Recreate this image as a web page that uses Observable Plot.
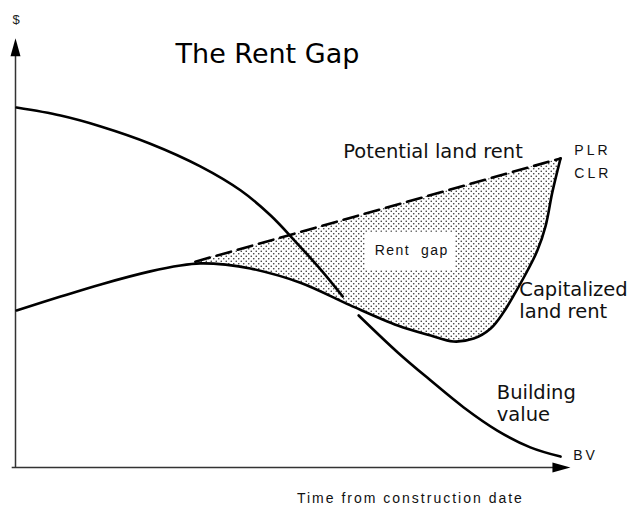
<!DOCTYPE html>
<html>
<head>
<meta charset="utf-8">
<script src="https://cdn.jsdelivr.net/npm/d3@7"></script>
<script src="https://cdn.jsdelivr.net/npm/@observablehq/plot@0.6"></script>
<style>
  html, body { margin: 0; padding: 0; background: #fff; }
  #defs { position: absolute; width: 0; height: 0; }
</style>
</head>
<body>
<svg id="defs" width="0" height="0">
  <defs>
    <pattern id="dots" width="5" height="5" patternUnits="userSpaceOnUse">
      <rect width="5" height="5" fill="#fff"></rect>
      <circle cx="1.25" cy="1.25" r="0.8" fill="#333"></circle>
      <circle cx="3.75" cy="3.75" r="0.8" fill="#333"></circle>
    </pattern>
  </defs>
</svg>
<div id="chart"></div>
<script>
// Building value (BV): upper part, break (NaN) where it passes under CLR, lower part
const bvX = [0.2, 8.2, 15.5, 24.5, 33.6, 40.9, 46.4, 50.9, 55.5, 59.5, NaN, 62.4, 69.5, 75.5, 81.5, 87.6, 93.6, 99.1];
const bvY = [85.7, 83.8, 81.2, 77.1, 71.7, 66.0, 60.0, 53.8, 47.1, 40.7, NaN, 36.2, 27.4, 20.7, 14.3, 8.8, 4.8, 2.6];

// Capitalized land rent (CLR)
const clrX = [0.2, 8.2, 15.5, 24.5, 30.0, 33.6, 38.2, 42.7, 51.8, 60.9, 69.5, 75.5, 79.6, 83.3, 86.4, 88.7, 90.9, 93.1, 94.9, 96.4, 97.6, 99.1];
const clrY = [37.4, 40.7, 43.6, 46.7, 48.1, 48.6, 48.3, 47.4, 44.0, 38.6, 33.8, 31.4, 30.0, 30.7, 33.1, 36.9, 41.7, 46.9, 51.7, 57.6, 65.5, 73.6];

// Potential land rent (PLR), straight dashed line
const plrX = [32.7, 99.1];
const plrY = [49.0, 73.6];

// Rent gap: upper edge (PLR) read at the CLR sample positions from x = 33.6 on
const gapX = [33.6, 38.2, 42.7, 51.8, 60.9, 69.5, 75.5, 79.6, 83.3, 86.4, 88.7, 90.9, 93.1, 94.9, 96.4, 97.6, 99.1];
const gapTop = [49.3, 51.0, 52.7, 56.0, 59.4, 62.6, 64.8, 66.3, 67.7, 68.8, 69.7, 70.5, 71.3, 72.0, 72.5, 73.0, 73.6];
const gapBottom = [48.6, 48.3, 47.4, 44.0, 38.6, 33.8, 31.4, 30.0, 30.7, 33.1, 36.9, 41.7, 46.9, 51.7, 57.6, 65.5, 73.6];

// Text labels
const title = "The Rent Gap";
const yLabel = "$";
const xLabel = "Time from construction date";
const bigLabels = [
  {text: "Potential land rent", x: 59.6, y: 73.8},
  {text: "Capitalized\nland rent", x: 91.6, y: 35.5},
  {text: "Building\nvalue", x: 87.5, y: 11.0}
];
const endLabels = [
  {text: "PLR", x: 101.6, y: 74.3},
  {text: "CLR", x: 101.6, y: 69.0},
  {text: "BV", x: 101.4, y: 1.7}
];
const gapLabel = {text: "Rent  gap", x: 65.3, y: 50.5};
const gapBox = {x1: 63.6, x2: 80.0, y1: 46.9, y2: 56.0};

const bv = bvX.map((x, i) => ({x, y: bvY[i]}));
const clr = clrX.map((x, i) => ({x, y: clrY[i]}));
const plr = plrX.map((x, i) => ({x, y: plrY[i]}));
const gap = gapX.map((x, i) => ({x, top: gapTop[i], bottom: gapBottom[i]}));

const upArrow = {draw(ctx) { ctx.moveTo(0, 0); ctx.lineTo(-5, 18); ctx.lineTo(5, 18); ctx.closePath(); }};
const rightArrow = {draw(ctx) { ctx.moveTo(0, 0); ctx.lineTo(-18, -5); ctx.lineTo(-18, 5); ctx.closePath(); }};

const chart = Plot.plot({
  width: 628,
  height: 510,
  marginLeft: 15,
  marginRight: 63,
  marginTop: 47,
  marginBottom: 43,
  x: {domain: [0, 100], axis: null},
  y: {domain: [0, 100], axis: null},
  style: {background: "#fff", overflow: "visible"},
  marks: [
    // rent gap fill
    Plot.areaY(gap, {x: "x", y1: "bottom", y2: "top", fill: "url(#dots)", curve: "catmull-rom"}),
    Plot.rect([gapBox], {x1: "x1", x2: "x2", y1: "y1", y2: "y2", fill: "#fff"}),
    // axes
    Plot.ruleX([0], {y1: 0, y2: 100, stroke: "#333", strokeWidth: 1.5}),
    Plot.ruleY([0], {x1: -0.6, x2: 98, stroke: "#333", strokeWidth: 1.5}),
    Plot.dot([{x: 0, y: 102.2}], {x: "x", y: "y", symbol: upArrow, fill: "#000", stroke: "none"}),
    Plot.dot([{x: 100.9, y: 0}], {x: "x", y: "y", symbol: rightArrow, fill: "#000", stroke: "none"}),
    // curves
    Plot.line(plr, {x: "x", y: "y", stroke: "#000", strokeWidth: 2.6, strokeDasharray: "15,7"}),
    Plot.line(clr, {x: "x", y: "y", stroke: "#000", strokeWidth: 2.6, curve: "catmull-rom"}),
    Plot.line(bv, {x: "x", y: "y", stroke: "#000", strokeWidth: 2.6, curve: "catmull-rom"}),
    // texts
    Plot.text([title], {x: 29.1, y: 96.4, text: d => d, textAnchor: "start", lineAnchor: "bottom", fontSize: 27, fontFamily: "DejaVu Sans", fill: "#000"}),
    Plot.text([yLabel], {x: 0.1, y: 105.7, text: d => d, textAnchor: "middle", lineAnchor: "bottom", fontSize: 13, fontFamily: "Liberation Sans", fill: "#222"}),
    Plot.text([xLabel], {x: 71.8, y: -8.5, text: d => d, textAnchor: "middle", lineAnchor: "bottom", fontSize: 14, fontFamily: "Liberation Sans", fill: "#111"}),
    Plot.text(bigLabels, {x: "x", y: "y", text: "text", textAnchor: "start", lineAnchor: "bottom", fontSize: 19.5, lineHeight: 1.15, fontFamily: "DejaVu Sans", fill: "#111"}),
    Plot.text(endLabels, {x: "x", y: "y", text: "text", textAnchor: "start", lineAnchor: "bottom", fontSize: 14, fontFamily: "Liberation Sans", fill: "#111"}),
    Plot.text([gapLabel], {x: "x", y: "y", text: "text", textAnchor: "start", lineAnchor: "bottom", fontSize: 14, fontFamily: "Liberation Sans", fill: "#111"})
  ]
});
chart.querySelectorAll("text").forEach(t => {
  const s = t.textContent;
  if (s === "PLR" || s === "CLR" || s === "BV") t.setAttribute("letter-spacing", "3");
  if (s === "Rent  gap") t.setAttribute("letter-spacing", "1.5");
  if (s === xLabel) t.setAttribute("letter-spacing", "2");
});
document.getElementById("chart").appendChild(chart);
</script>
</body>
</html>
